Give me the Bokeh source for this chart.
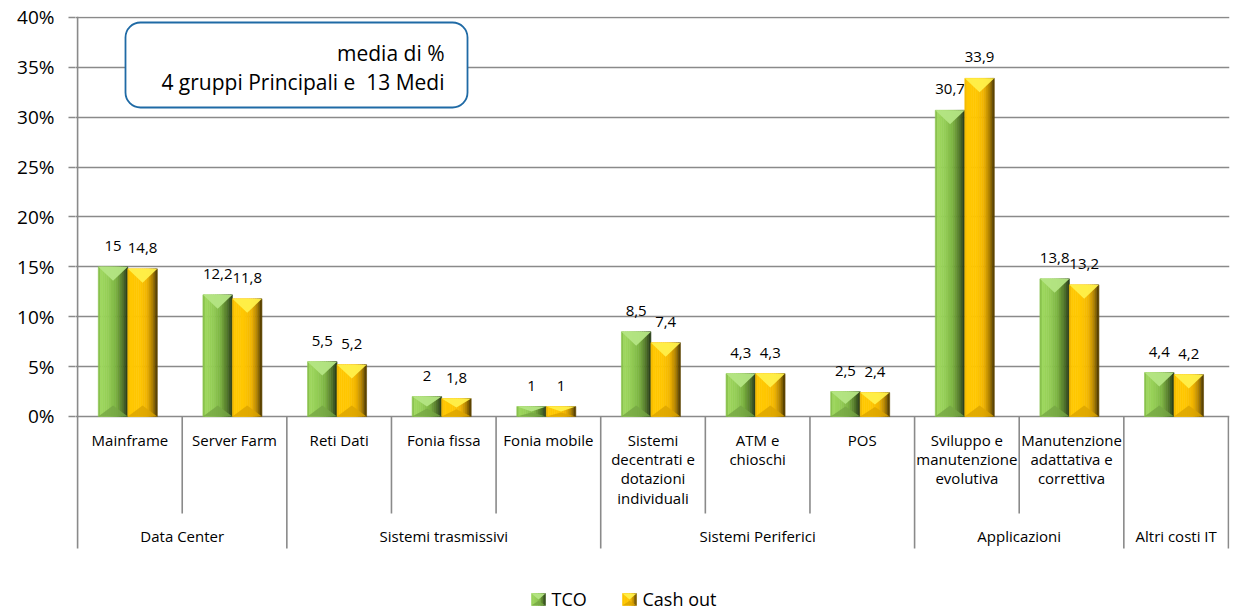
import numpy as np
from bokeh.plotting import figure
from bokeh.models import Range1d, FixedTicker, PrintfTickFormatter, BoxAnnotation, Label, ColumnDataSource
from bokeh.embed import file_html
from bokeh.resources import INLINE
from bokeh.core.properties import value

# ---------------- data ----------------
categories = ["Mainframe", "Server Farm", "Reti Dati", "Fonia fissa", "Fonia mobile",
              "Sistemi\ndecentrati e\ndotazioni\nindividuali", "ATM e\nchioschi", "POS",
              "Sviluppo e\nmanutenzione\nevolutiva", "Manutenzione\nadattativa e\ncorrettiva", ""]
groups = ["Data Center", "Sistemi trasmissivi", "Sistemi Periferici", "Applicazioni", "Altri costi IT"]
group_sizes = [2, 3, 3, 2, 1]
tco = [15, 12.2, 5.5, 2, 1, 8.5, 4.3, 2.5, 30.7, 13.8, 4.4]
cash_out = [14.8, 11.8, 5.2, 1.8, 1, 7.4, 4.3, 2.4, 33.9, 13.2, 4.2]
series_names = ["TCO", "Cash out"]
y_ticks = [0, 5, 10, 15, 20, 25, 30, 35, 40]
box_lines = ["media di %", "4 gruppi Principali e\u00a0 13 Medi"]

# ---------------- styling / layout ----------------
FONT = "Open Sans"
GRAY = "#8a8a8a"
PX_X = 104.62   # pixels per category
PX_Y = 9.975    # pixels per percent
BW = 0.282      # bar width (category units)
SHIFT = -0.02

green_stops = [(0.0, "#7fb743"), (0.1, "#9ed75e"), (0.35, "#94cd56"), (0.6, "#7cb342"),
               (0.8, "#587f2c"), (0.92, "#3a5620"), (1.0, "#24341a")]
yellow_stops = [(0.0, "#f0b400"), (0.1, "#ffc800"), (0.4, "#ffc600"), (0.65, "#f2b500"),
                (0.82, "#b88800"), (0.93, "#7a5a00"), (1.0, "#3e2e00")]
styles = [
    dict(stops=green_stops, top="#b4e584", bottom="#76a644"),
    dict(stops=yellow_stops, top="#fff04a", bottom="#dba400"),
]


def hex2rgb(h):
    h = h.lstrip("#")
    return np.array([int(h[i:i + 2], 16) for i in (0, 2, 4)], dtype=float)


def grad(stops, t):
    for (t0, c0), (t1, c1) in zip(stops[:-1], stops[1:]):
        if t0 <= t <= t1:
            f = (t - t0) / (t1 - t0) if t1 > t0 else 0
            c = hex2rgb(c0) * (1 - f) + hex2rgb(c1) * f
            return "#%02x%02x%02x" % tuple(int(round(v)) for v in c)
    return stops[-1][1]


W, H = 1234, 613
p = figure(width=W, height=H, output_backend="svg", toolbar_location=None,
           x_range=Range1d(-0.02, 11.01), y_range=Range1d(-19.75, 40.1),
           x_axis_location=None, min_border_left=75, min_border_right=5,
           min_border_top=16, min_border_bottom=0)
p.outline_line_color = None
p.xgrid.visible = False
p.ygrid.ticker = FixedTicker(ticks=y_ticks)
p.ygrid.grid_line_color = GRAY
p.ygrid.grid_line_width = 1.4
ax = p.yaxis[0]
ax.ticker = FixedTicker(ticks=y_ticks)
ax.formatter = PrintfTickFormatter(format="%d%%")
ax.axis_line_color = None
ax.major_tick_in = 0
ax.major_tick_out = 7
ax.major_tick_line_color = GRAY
ax.major_tick_line_width = 1.4
ax.minor_tick_line_color = None
ax.major_label_text_font = FONT
ax.major_label_text_font_size = "19px"
ax.major_label_text_color = "#000000"
ax.major_label_standoff = 14

# ---------------- separators / table ----------------
bounds = np.cumsum([0] + group_sizes)
table_bottom = -(548 - 416) / PX_Y
sub_bottom = -(513 - 416) / PX_Y
seg_x, seg_y0, seg_y1 = [], [], []
seg_x.append(0.0); seg_y0.append(40.1); seg_y1.append(table_bottom)
for b in bounds[1:]:
    seg_x.append(float(b)); seg_y0.append(0); seg_y1.append(table_bottom)
for i in range(1, len(categories)):
    if i not in bounds:
        seg_x.append(float(i)); seg_y0.append(0); seg_y1.append(sub_bottom)
p.segment(x0=seg_x, y0=seg_y0, x1=seg_x, y1=seg_y1, line_color=GRAY, line_width=1.6)


# ---------------- bevelled bars ----------------
def bevel_bar(xl, xr, y0, y1, style, nstrip=14, dt_max=1.4, db_max=1.1):
    h = y1 - y0
    w = (xr - xl) / nstrip
    lefts = [xl + k * w for k in range(nstrip)]
    rights = [xl + (k + 1) * w for k in range(nstrip)]
    cols = [grad(style["stops"], (k + 0.5) / nstrip) for k in range(nstrip)]
    p.quad(left=lefts, right=rights, bottom=[y0] * nstrip, top=[y1] * nstrip,
           fill_color=cols, line_color=cols, line_width=0.6)
    dt = min(dt_max, 0.5 * h)
    db = min(db_max, 0.4 * h)
    xc = (xl + xr) / 2
    p.patches(xs=[[xl, xr, xc], [xl, xr, xc]],
              ys=[[y1, y1, y1 - dt], [y0, y0, y0 + db]],
              fill_color=[style["top"], style["bottom"]], line_color=None, fill_alpha=[0.95, 0.8])


idx = np.arange(len(categories))
for s, vals in enumerate([tco, cash_out]):
    st = styles[s]
    for i, v in zip(idx, vals):
        xl = i + 0.5 + SHIFT + (s - 1) * BW
        bevel_bar(xl, xl + BW, 0, v, st)
    src = ColumnDataSource(dict(
        x=idx + 0.5 + SHIFT + (s - 0.5) * BW,
        y=vals,
        t=[("%g" % v).replace(".", ",") for v in vals]))
    p.text(x="x", y="y", text="t", source=src, text_align="center", text_baseline="middle",
           y_offset=-21, text_font=value(FONT), text_font_size="15px", text_color="#000000")

# category labels
p.text(x=idx + 0.5, y=[-1.35] * len(categories), text=categories, text_align="center",
       text_baseline="top", text_font=value(FONT), text_font_size="15px",
       text_line_height=0.96, text_color="#000000")
# group labels
gcent = [(bounds[k] + bounds[k + 1]) / 2 for k in range(len(groups))]
p.text(x=gcent, y=[-(536 - 416) / PX_Y] * len(groups), text=groups, text_align="center",
       text_baseline="middle", text_font=value(FONT), text_font_size="15px", text_color="#000000")

# ---------------- annotation box ----------------
box = BoxAnnotation(left=(125 - 77.1) / PX_X, right=(467 - 77.1) / PX_X,
                    top=(416 - 22) / PX_Y, bottom=(416 - 107) / PX_Y,
                    fill_color="white", fill_alpha=1.0, line_color="#1f6aa5", line_alpha=1.0,
                    line_width=1.8, border_radius=15)
p.add_layout(box)
for k, (txt, ypx) in enumerate(zip(box_lines, [53, 82])):
    p.add_layout(Label(x=(444 - 77.1) / PX_X, y=(416 - ypx) / PX_Y, text=txt,
                       text_align="right", text_baseline="middle", text_font=FONT,
                       text_font_size="21px", text_color="#000000"))

# ---------------- legend ----------------
leg_icon_px = [531, 622]
for s, name in enumerate(series_names):
    xl = (leg_icon_px[s] - 77.1) / PX_X
    xr = xl + 14 / PX_X
    yb = (416 - 605) / PX_Y
    yt = (416 - 593) / PX_Y
    bevel_bar(xl, xr, yb, yt, styles[s], nstrip=6, dt_max=0.6, db_max=0.5)
    p.add_layout(Label(x=xr + 6 / PX_X, y=(416 - 599) / PX_Y, text=name,
                       text_align="left", text_baseline="middle", text_font=FONT,
                       text_font_size="18px", text_color="#000000"))

open("out.html", "w").write(file_html(p, INLINE))
